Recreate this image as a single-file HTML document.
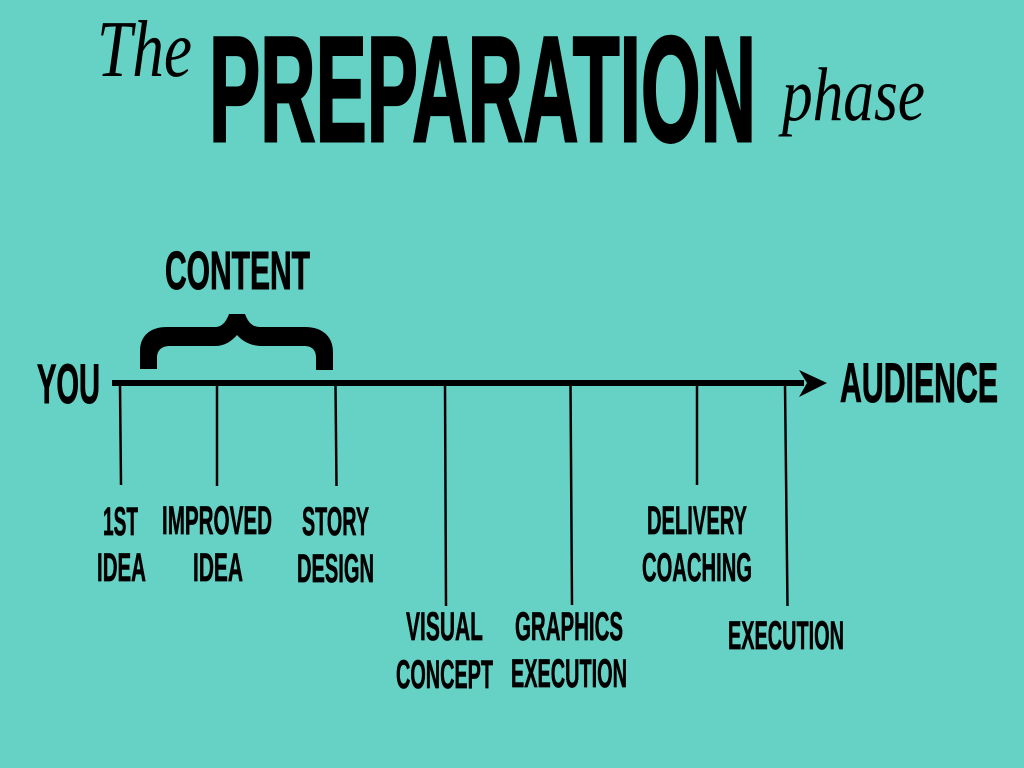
<!DOCTYPE html>
<html lang="en"><head><meta charset="utf-8"><title>The Preparation phase</title>
<style>
html,body{margin:0;padding:0;background:#66d2c5;width:1024px;height:768px;overflow:hidden}
svg{display:block}
.b{font-family:"Liberation Sans",sans-serif;font-weight:700;fill:#000;stroke:#000;stroke-width:.7px}
.t{stroke-width:3px}
.m{stroke-width:1px}
.s{font-family:"Liberation Serif",serif;font-style:italic;fill:#000}
</style></head><body>
<svg width="1024" height="768" viewBox="0 0 1024 768" xmlns="http://www.w3.org/2000/svg">
<rect width="1024" height="768" fill="#66d2c5"/>
<text class="s" x="97" y="76" font-size="80" textLength="95" lengthAdjust="spacingAndGlyphs">The</text>
<text class="b t" x="209" y="141" font-size="150" textLength="547" lengthAdjust="spacingAndGlyphs">PREPARATION</text>
<text class="s" x="782" y="120" font-size="76" textLength="143" lengthAdjust="spacingAndGlyphs">phase</text>
<text class="b m" x="165" y="289" font-size="54" textLength="145" lengthAdjust="spacingAndGlyphs">CONTENT</text>
<text class="b m" x="37" y="403" font-size="56" textLength="63" lengthAdjust="spacingAndGlyphs">YOU</text>
<text class="b m" x="840" y="402" font-size="56" textLength="158" lengthAdjust="spacingAndGlyphs">AUDIENCE</text>
<path fill="#000" d="M140 369V351C140 336 150 327 167 327H215C222 327 226 322 229 314H245C248 322 252 327 260 327H305C323 327 333 337 333 352V370H316V358C316 350 312 346 304 346H262C252 346 243 342 237 335C231 342 224 346 215 346H170C162 346 157 350 157 358V369Z"/>
<rect x="112" y="380" width="692" height="6" fill="#000"/>
<path fill="#000" d="M827 383L799 370L807 383L799 397Z"/>
<g stroke="#000" stroke-width="2.5" fill="none">
<path d="M120 385L121 485"/><path d="M217 385V486"/><path d="M335.500 385L336.500 486"/><path d="M445 385L446 606"/><path d="M570.500 385L572 605"/><path d="M697 385V485"/><path d="M785 385L787.500 606"/>
</g>
<g>
<text class="b" x="103" y="535" font-size="40" textLength="35" lengthAdjust="spacingAndGlyphs">1ST</text>
<text class="b" x="97" y="581" font-size="40" textLength="49" lengthAdjust="spacingAndGlyphs">IDEA</text>
<text class="b" x="162" y="534" font-size="40" textLength="110" lengthAdjust="spacingAndGlyphs">IMPROVED</text>
<text class="b" x="193" y="581" font-size="40" textLength="50" lengthAdjust="spacingAndGlyphs">IDEA</text>
<text class="b" x="302" y="535" font-size="40" textLength="67" lengthAdjust="spacingAndGlyphs">STORY</text>
<text class="b" x="297" y="582" font-size="40" textLength="77" lengthAdjust="spacingAndGlyphs">DESIGN</text>
<text class="b" x="406" y="640" font-size="40" textLength="77" lengthAdjust="spacingAndGlyphs">VISUAL</text>
<text class="b" x="396" y="688" font-size="40" textLength="97" lengthAdjust="spacingAndGlyphs">CONCEPT</text>
<text class="b" x="515" y="640" font-size="40" textLength="108" lengthAdjust="spacingAndGlyphs">GRAPHICS</text>
<text class="b" x="511" y="687" font-size="40" textLength="116" lengthAdjust="spacingAndGlyphs">EXECUTION</text>
<text class="b" x="647" y="534" font-size="40" textLength="100" lengthAdjust="spacingAndGlyphs">DELIVERY</text>
<text class="b" x="642" y="581" font-size="40" textLength="110" lengthAdjust="spacingAndGlyphs">COACHING</text>
<text class="b" x="728" y="649" font-size="40" textLength="116" lengthAdjust="spacingAndGlyphs">EXECUTION</text>
</g>
</svg>
</body></html>
